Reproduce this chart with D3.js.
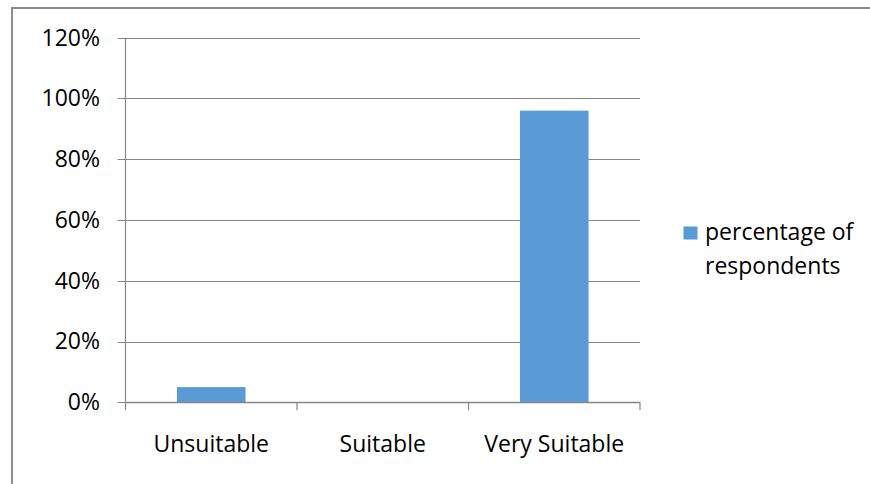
<!DOCTYPE html>
<html>
<head>
<meta charset="utf-8">
<script src="https://cdn.jsdelivr.net/npm/d3@7"></script>
<style>
  html, body { margin: 0; padding: 0; background: #fff; }
  svg { display: block; }
  text { font-family: "Open Sans", sans-serif; fill: #000; }
</style>
</head>
<body>
<svg id="chart" width="870" height="484"></svg>
<script>
// Survey results: share of respondents per rating
const categories = ["Unsuitable", "Suitable", "Very Suitable"];
const percentages = [0.05, 0.00, 0.96];
const yTicks = [0, 0.2, 0.4, 0.6, 0.8, 1.0, 1.2];
const seriesName = ["percentage of", "respondents"];

const svg = d3.select("#chart");
const barColor = "#5B9BD5";
const axisColor = "#868686";
const fontSize = 23;

// Chart frame (top and left edges)
svg.append("line").attr("x1", 12).attr("x2", 870).attr("y1", 8).attr("y2", 8)
  .attr("stroke", "#8c8c8c").attr("stroke-width", 2);
svg.append("line").attr("x1", 12).attr("x2", 12).attr("y1", 7).attr("y2", 484)
  .attr("stroke", "#8c8c8c").attr("stroke-width", 2);

const plot = { left: 125.5, right: 640, top: 37.7, bottom: 402.3 };

const y = d3.scaleLinear().domain([0, 1.2]).range([plot.bottom, plot.top]);
const x = d3.scaleBand().domain(categories)
  .range([plot.left, plot.right]).paddingInner(0.6).paddingOuter(0.3);

// Gridlines
svg.append("g").selectAll("line").data(yTicks).join("line")
  .attr("x1", plot.left - 8).attr("x2", plot.right)
  .attr("y1", d => Math.round(y(d)) + 0.5).attr("y2", d => Math.round(y(d)) + 0.5)
  .attr("stroke", axisColor).attr("stroke-width", 1.2);

// Y axis line
svg.append("line").attr("x1", plot.left).attr("x2", plot.left)
  .attr("y1", plot.top).attr("y2", plot.bottom)
  .attr("stroke", axisColor).attr("stroke-width", 1.2);

// Y tick labels
svg.append("g").selectAll("text").data(yTicks).join("text")
  .attr("x", 100).attr("y", d => y(d) + 7.8)
  .attr("text-anchor", "end").attr("font-size", fontSize)
  .text(d => d3.format(".0%")(d));

// Bars
svg.append("g").selectAll("rect").data(categories).join("rect")
  .attr("x", d => x(d)).attr("width", x.bandwidth())
  .attr("y", (d, i) => y(percentages[i]))
  .attr("height", (d, i) => y(0) - y(percentages[i]))
  .attr("fill", barColor);

// X axis line and category separators
svg.append("line").attr("x1", plot.left).attr("x2", plot.right)
  .attr("y1", Math.round(plot.bottom) + 0.5).attr("y2", Math.round(plot.bottom) + 0.5)
  .attr("stroke", axisColor).attr("stroke-width", 1.5);
const step = x.step();
const sepX = d3.range(categories.length + 1).map(i => plot.left + i * step);
svg.append("g").selectAll("line").data(sepX).join("line")
  .attr("x1", d => d).attr("x2", d => d)
  .attr("y1", plot.bottom).attr("y2", plot.bottom + 8)
  .attr("stroke", axisColor).attr("stroke-width", 1.2);

// Category labels
svg.append("g").selectAll("text").data(categories).join("text")
  .attr("x", d => x(d) + x.bandwidth() / 2).attr("y", 452)
  .attr("text-anchor", "middle").attr("font-size", fontSize)
  .text(d => d);

// Legend
svg.append("rect").attr("x", 683.5).attr("y", 226.5).attr("width", 14).attr("height", 13)
  .attr("fill", barColor);
svg.append("g").selectAll("text").data(seriesName).join("text")
  .attr("x", 705).attr("y", (d, i) => 240 + i * 33.5)
  .attr("font-size", fontSize)
  .text(d => d);
</script>
</body>
</html>
